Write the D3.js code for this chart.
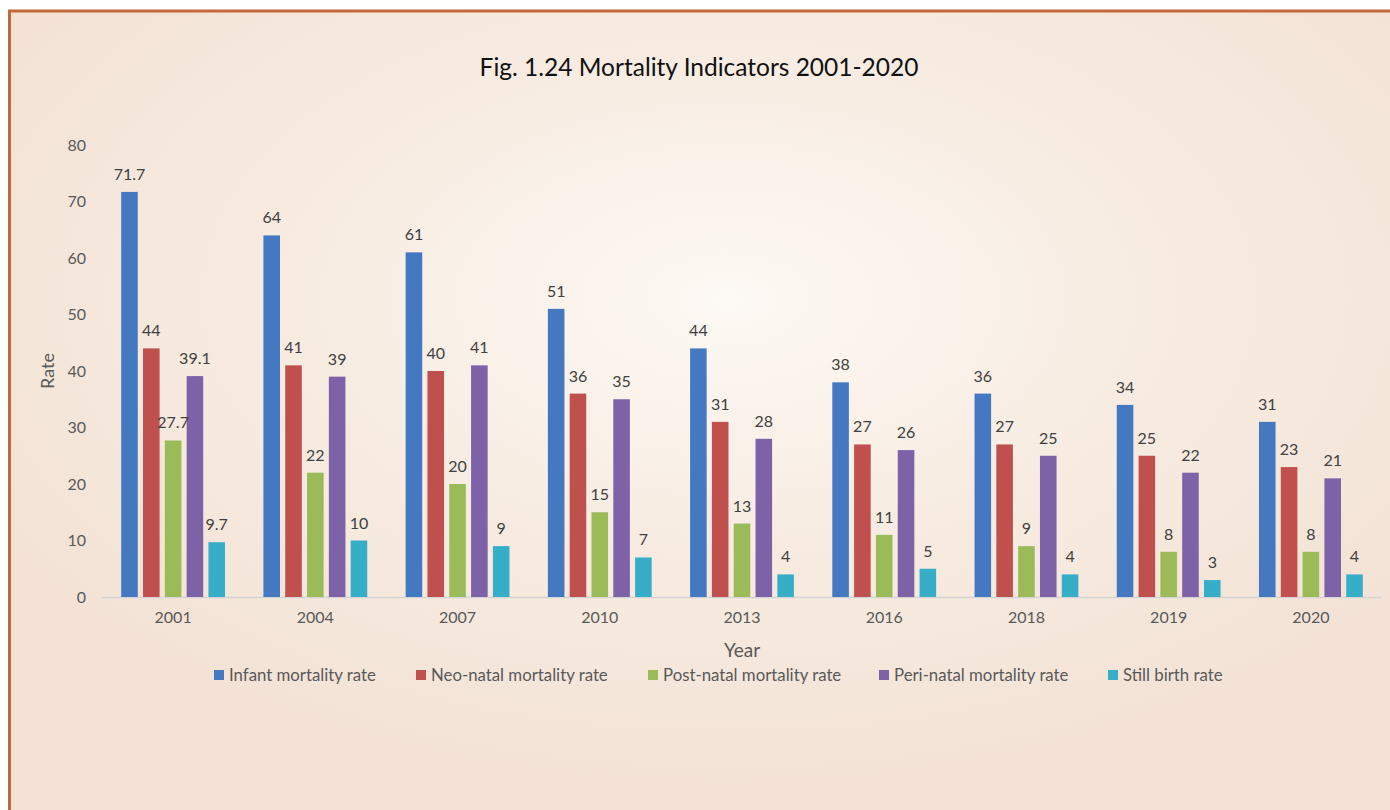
<!DOCTYPE html>
<html>
<head>
<meta charset="utf-8">
<script src="https://cdn.jsdelivr.net/npm/d3@7"></script>
<style>
    body { margin: 0; background: #ffffff; }
    text { font-family: Lato, "Open Sans", sans-serif; }
</style>
</head>
<body>
<div id="chart"></div>
<script>

// chart data
let years = ["2001", "2004", "2007", "2010", "2013", "2016", "2018", "2019", "2020"];
let seriesNames = ["Infant mortality rate", "Neo-natal mortality rate", "Post-natal mortality rate", "Peri-natal mortality rate", "Still birth rate"];
let infantRate = [71.7, 64, 61, 51, 44, 38, 36, 34, 31];
let neoNatalRate = [44, 41, 40, 36, 31, 27, 27, 25, 23];
let postNatalRate = [27.7, 22, 20, 15, 13, 11, 9, 8, 8];
let periNatalRate = [39.1, 39, 41, 35, 28, 26, 25, 22, 21];
let stillBirthRate = [9.7, 10, 9, 7, 4, 5, 4, 3, 4];
let yTicks = [0, 10, 20, 30, 40, 50, 60, 70, 80];

let seriesValues = [infantRate, neoNatalRate, postNatalRate, periNatalRate, stillBirthRate];
let colors = ["#4479c2", "#c0504d", "#9bbb59", "#7d62a8", "#36aec8"];

let width = 1390, height = 810;
let margin = {top: 145, right: 8, bottom: 213, left: 102};

let svg = d3.select("#chart").append("svg")
    .attr("width", width)
    .attr("height", height);

// background with soft radial glow
let defs = svg.append("defs");
let grad = defs.append("radialGradient")
    .attr("id", "bgGlow")
    .attr("cx", "52%").attr("cy", "36%").attr("r", "62%");
grad.append("stop").attr("offset", "0%").attr("stop-color", "#fdf9f4");
grad.append("stop").attr("offset", "45%").attr("stop-color", "#f8ede3");
grad.append("stop").attr("offset", "100%").attr("stop-color", "#f3e2d5");

svg.append("rect")
    .attr("x", 10).attr("y", 12)
    .attr("width", width - 10).attr("height", height - 12)
    .attr("fill", "url(#bgGlow)");

// frame (top and left edges)
svg.append("line")
    .attr("x1", 8).attr("x2", width).attr("y1", 11).attr("y2", 11)
    .attr("stroke", "#c2693a").attr("stroke-width", 3);
svg.append("line")
    .attr("x1", 9.5).attr("x2", 9.5).attr("y1", 10).attr("y2", height)
    .attr("stroke", "#c2693a").attr("stroke-width", 3);

// title
svg.append("text")
    .attr("x", 699).attr("y", 76)
    .attr("text-anchor", "middle")
    .attr("font-size", 24.5)
    .attr("fill", "#111111")
    .text("Fig. 1.24 Mortality Indicators 2001-2020");

// scales
let x0 = d3.scaleBand()
    .domain(years)
    .range([margin.left, width - margin.right])
    .paddingInner(0.27)
    .paddingOuter(0.135);

let x1 = d3.scaleBand()
    .domain(d3.range(seriesNames.length))
    .range([0, x0.bandwidth()])
    .paddingInner(0.24);

let y = d3.scaleLinear()
    .domain([0, 80])
    .range([height - margin.bottom, margin.top]);

// y axis (labels only)
let yAxis = svg.append("g")
    .attr("transform", `translate(${margin.left - 16},0)`)
    .call(d3.axisLeft(y).tickValues(yTicks).tickSize(0).tickPadding(0));
yAxis.select(".domain").remove();
yAxis.selectAll("text")
    .attr("font-size", 16)
    .attr("fill", "#595959")
    .style("font-family", "Lato, sans-serif");

// x axis baseline
svg.append("line")
    .attr("x1", margin.left).attr("x2", width - margin.right)
    .attr("y1", y(0) + 0.5).attr("y2", y(0) + 0.5)
    .attr("stroke", "#d4d4d4").attr("stroke-width", 1.5);

let xAxis = svg.append("g")
    .attr("transform", `translate(0,${y(0)})`)
    .call(d3.axisBottom(x0).tickSize(0).tickPadding(15));
xAxis.select(".domain").remove();
xAxis.selectAll("text")
    .attr("font-size", 16)
    .attr("fill", "#595959")
    .style("font-family", "Lato, sans-serif");

// axis titles
svg.append("text")
    .attr("transform", `translate(54,${(y(0) + y(80)) / 2}) rotate(-90)`)
    .attr("text-anchor", "middle")
    .attr("font-size", 18)
    .attr("fill", "#595959")
    .text("Rate");

svg.append("text")
    .attr("x", (margin.left + width - margin.right) / 2)
    .attr("y", 657)
    .attr("text-anchor", "middle")
    .attr("font-size", 19)
    .attr("fill", "#595959")
    .text("Year");

// bars
let groups = svg.selectAll(".year")
    .data(years)
    .enter()
    .append("g")
    .attr("class", "year")
    .attr("transform", d => `translate(${x0(d)},0)`);

groups.selectAll("rect")
    .data((d, i) => seriesValues.map((vals, s) => ({s: s, value: vals[i]})))
    .enter()
    .append("rect")
    .attr("x", d => x1(d.s))
    .attr("width", x1.bandwidth())
    .attr("y", d => y(d.value))
    .attr("height", d => y(0) - y(d.value))
    .attr("fill", d => colors[d.s]);

groups.selectAll(".lbl")
    .data((d, i) => seriesValues.map((vals, s) => ({s: s, value: vals[i]})))
    .enter()
    .append("text")
    .attr("class", "lbl")
    .attr("x", d => x1(d.s) + x1.bandwidth() / 2)
    .attr("y", d => y(d.value) - 12)
    .attr("text-anchor", "middle")
    .attr("font-size", 16)
    .attr("fill", "#404040")
    .text(d => d.value);

// legend
let legendX = [214, 416, 648, 879, 1108];
let legend = svg.selectAll(".legend")
    .data(seriesNames)
    .enter()
    .append("g")
    .attr("class", "legend")
    .attr("transform", (d, i) => `translate(${legendX[i]},675)`);

legend.append("rect")
    .attr("x", 0).attr("y", -5)
    .attr("width", 10).attr("height", 10)
    .attr("fill", (d, i) => colors[i]);

legend.append("text")
    .attr("x", 15).attr("y", 6)
    .attr("font-size", 16.8)
    .attr("fill", "#595959")
    .text(d => d);

</script>
</body>
</html>
